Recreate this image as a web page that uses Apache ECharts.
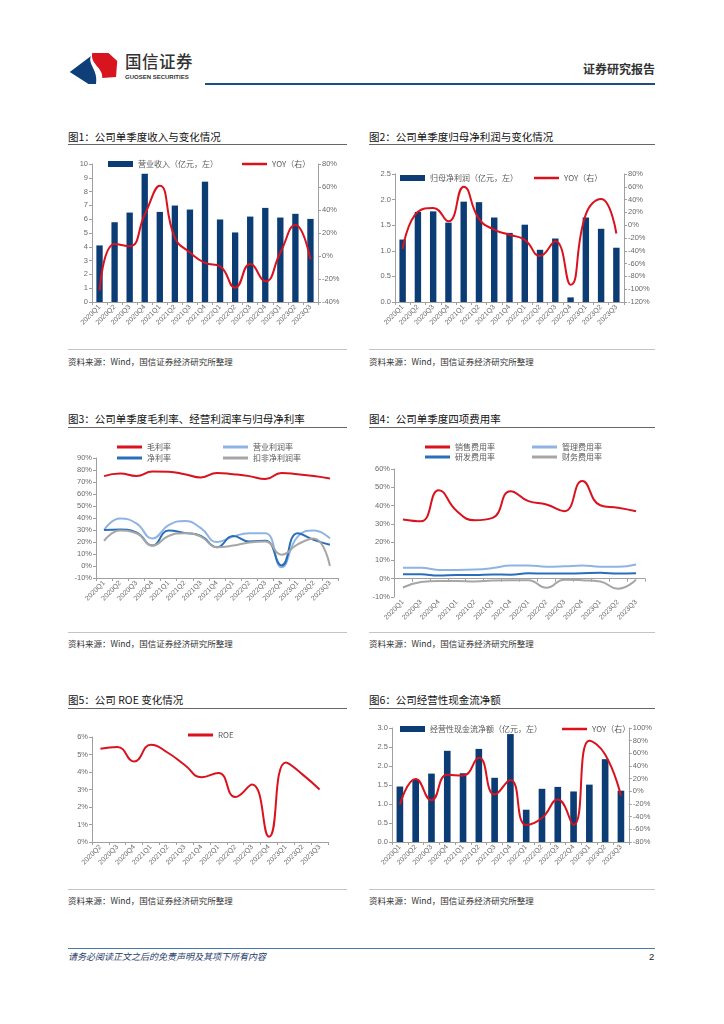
<!DOCTYPE html>
<html><head><meta charset="utf-8">
<script src="https://cdn.jsdelivr.net/npm/echarts@6/dist/echarts.min.js"></script>
<style>
body{margin:0;background:#fff;}
#page{position:relative;width:724px;height:1024px;overflow:hidden;font-family:"Noto Sans CJK SC","Liberation Sans",sans-serif;background:#fff;}
.abs{position:absolute;}
.title{font-size:10.5px;line-height:12px;color:#111;white-space:nowrap;}
.uline{height:1px;background:#666;}
.bline{height:1px;background:#c4c4c4;}
.src{font-size:8.5px;line-height:10px;color:#333;white-space:nowrap;}
</style></head>
<body>
<div id="page">
  <svg class="abs" style="left:66px;top:50px" width="60" height="36" viewBox="0 0 48 36" preserveAspectRatio="none">
    <path d="M3,22 L20,6 C17,14 26,20 24,34 L18,34 Z" fill="#0e3f78"/>
    <path d="M21,3 L34,3 L41,11 L40,27 L29,28 C30,18 19,14 21,3 Z" fill="#d8141e"/>
  </svg>
  <div class="abs" style="left:125px;top:52px;font-size:16.5px;line-height:19px;color:#333;font-weight:500;letter-spacing:0.5px;">国信证券</div>
  <div class="abs" style="left:125px;top:74px;font-size:6px;line-height:7px;color:#333;font-weight:bold;font-family:'Liberation Sans';">GUOSEN SECURITIES</div>
  <div class="abs" style="left:205px;top:83px;width:450px;height:2px;background:#1f4e82;"></div>
  <div class="abs" style="left:583px;top:62px;font-size:12px;line-height:14px;color:#333;font-weight:bold;">证券研究报告</div>

  <div class="abs title" style="left:68px;top:131px;">图1：公司单季度收入与变化情况</div>
  <div class="abs uline" style="left:68px;top:144px;width:279px;"></div>
  <div class="abs title" style="left:369px;top:131px;">图2：公司单季度归母净利润与变化情况</div>
  <div class="abs uline" style="left:369px;top:144px;width:286px;"></div>
  <div class="abs bline" style="left:68px;top:349px;width:279px;"></div>
  <div class="abs bline" style="left:369px;top:349px;width:286px;"></div>
  <div class="abs src" style="left:68px;top:356px;">资料来源：Wind，国信证券经济研究所整理</div>
  <div class="abs src" style="left:369px;top:356px;">资料来源：Wind，国信证券经济研究所整理</div>

  <div class="abs title" style="left:68px;top:413px;">图3：公司单季度毛利率、经营利润率与归母净利率</div>
  <div class="abs uline" style="left:68px;top:427px;width:279px;"></div>
  <div class="abs title" style="left:369px;top:413px;">图4：公司单季度四项费用率</div>
  <div class="abs uline" style="left:369px;top:427px;width:286px;"></div>
  <div class="abs bline" style="left:68px;top:632px;width:279px;"></div>
  <div class="abs bline" style="left:369px;top:632px;width:286px;"></div>
  <div class="abs src" style="left:68px;top:638px;">资料来源：Wind，国信证券经济研究所整理</div>
  <div class="abs src" style="left:369px;top:638px;">资料来源：Wind，国信证券经济研究所整理</div>

  <div class="abs title" style="left:68px;top:694px;">图5：公司 ROE 变化情况</div>
  <div class="abs uline" style="left:68px;top:708px;width:279px;"></div>
  <div class="abs title" style="left:369px;top:694px;">图6：公司经营性现金流净额</div>
  <div class="abs uline" style="left:369px;top:708px;width:286px;"></div>
  <div class="abs bline" style="left:68px;top:889px;width:279px;"></div>
  <div class="abs bline" style="left:369px;top:889px;width:286px;"></div>
  <div class="abs src" style="left:68px;top:895px;">资料来源：Wind，国信证券经济研究所整理</div>
  <div class="abs src" style="left:369px;top:895px;">资料来源：Wind，国信证券经济研究所整理</div>

  <div class="abs" style="left:68px;top:948px;width:587px;height:1px;background:#4a7aa8;"></div>
  <div class="abs" style="left:68px;top:951px;font-size:9px;line-height:11px;color:#1f3d6b;font-style:italic;">请务必阅读正文之后的免责声明及其项下所有内容</div>
  <div class="abs" style="left:649px;top:951px;font-size:9.5px;line-height:11px;color:#222;font-family:'Liberation Sans';">2</div>

  <div id="c1" class="abs" style="left:68px;top:150px;width:282px;height:195px;"></div>
  <div id="c2" class="abs" style="left:369px;top:150px;width:286px;height:195px;"></div>
  <div id="c3" class="abs" style="left:68px;top:435px;width:282px;height:195px;"></div>
  <div id="c4" class="abs" style="left:369px;top:435px;width:286px;height:195px;"></div>
  <div id="c5" class="abs" style="left:68px;top:715px;width:282px;height:170px;"></div>
  <div id="c6" class="abs" style="left:369px;top:715px;width:286px;height:170px;"></div>
</div>
<script>
// ---------- data ----------
const quarters = ['2020Q1','2020Q2','2020Q3','2020Q4','2021Q1','2021Q2','2021Q3','2021Q4','2022Q1','2022Q2','2022Q3','2022Q4','2023Q1','2023Q2','2023Q3'];
const quartersFee = ['2020Q1','2020Q3','2020Q4','2021Q1','2021Q2','2021Q3','2021Q4','2022Q1','2022Q2','2022Q3','2022Q4','2023Q1','2023Q2','2023Q3'];
const quartersRoe = ['2020Q2','2020Q3','2020Q4','2021Q1','2021Q2','2021Q3','2021Q4','2022Q1','2022Q2','2022Q3','2022Q4','2023Q1','2023Q2','2023Q3'];

const revenue = [4.1,5.78,6.48,9.3,6.53,6.99,6.7,8.72,5.98,5.04,6.19,6.82,6.12,6.39,6.02];
const revenueYoy = [-30,10.5,8.5,36,61,16,3,-6,-9,-27.5,-7,-22,3,27,-3];

const netProfit = [1.22,1.76,1.77,1.55,1.96,1.95,1.65,1.35,1.51,1.02,1.24,0.09,1.65,1.43,1.06];
const netProfitYoy = [-37,21,27,6,60,10,-7,-15,-23,-48,-25,-93,17,41,-13];

const grossMargin = [74.9,77,75,78.7,78.5,76.5,73.8,77.6,76.5,74.9,72.4,77.6,76.5,75,73];
const opMargin = [30,39.5,35.6,23,34,37.5,31.5,20,24.5,27.3,27.3,-1,24.5,29.5,23];
const netMargin = [30,30.4,28,17,29.5,27.6,25,15.7,25,20.4,21,0.5,27.3,21.8,17.7];
const deductMargin = [21,29.5,27.3,17,25,27.3,24.5,15.7,17,19.6,20.4,9.4,18,23,0];

const sellRate = [32.4,31.4,48.4,37,32,33.3,47.9,42.4,40.6,36.9,53.4,40.2,38.8,36.9];
const mgmtRate = [6,6,4.8,4.8,5,5.8,7.2,7.2,6.6,6.8,7.2,6.6,6.6,7.8];
const rdRate = [2.5,2.4,1.8,2.0,2.0,2.3,2.2,3.0,2.8,2.8,3.0,3.2,2.8,3.0];
const finRate = [-4.8,-1.8,-1.2,-1.2,-1.5,-1.0,-0.8,-0.8,-5.0,-0.5,-0.8,-1.5,-5.5,-0.5];

const roe = [5.33,5.43,4.6,5.56,5.1,4.4,3.7,3.95,2.57,3.28,0.3,4.55,3.85,3.0];

const cashFlow = [1.46,1.64,1.80,2.40,1.81,2.45,1.69,2.84,0.85,1.40,1.45,1.33,1.51,2.18,1.35];
const cashFlowYoy = [-21,19.5,-14,26,25,53,-5,18,-53,-42,-13,-53,80,58,-7];

// ---------- styles ----------
const NAVY = '#0b3c74', RED = '#d9121d', LBLUE = '#8fb4e3', BLUE = '#2a6ebb', GRAY = '#a6a6a6';
const FONT = 'Liberation Sans';
const AX = '#a0a0a0';
const LBL = '#6a6a6a';
function yAxis(o){
  return Object.assign({
    type:'value', splitLine:{show:false},
    axisLine:{show:true,lineStyle:{color:AX}},
    axisTick:{show:true,length:3,lineStyle:{color:AX}},
    axisLabel:{color:LBL,fontSize:7.5,fontFamily:FONT,margin:4}
  }, o);
}
function xAxis(data,o){
  return Object.assign({
    type:'category', data:data, boundaryGap:true,
    axisLine:{show:true,lineStyle:{color:AX}},
    axisTick:{show:true,length:3,lineStyle:{color:AX}},
    axisLabel:{color:LBL,fontSize:7,fontFamily:FONT,rotate:45,interval:0,margin:4}
  }, o);
}
function legend(name,left,top,icon,h){
  return {data:[name],left:left,top:top,icon:'rect',itemWidth:25,itemHeight:h,
    textStyle:{color:'#595959',fontSize:8,fontFamily:'Noto Sans CJK SC'},selectedMode:false,padding:0};
}
function lineS(name,data,color,yi){
  return {name:name,type:'line',data:data,yAxisIndex:yi||0,smooth:0.5,symbol:'none',
    lineStyle:{color:color,width:2},itemStyle:{color:color},z:3};
}
function barS(name,data){
  return {name:name,type:'bar',data:data,barWidth:'42%',itemStyle:{color:NAVY}};
}
const pct = v => v + '%';
const fix1 = v => v.toFixed(1);
function lab(fmt){ return {color:LBL,fontSize:7.5,fontFamily:FONT,margin:4,formatter:fmt}; }

// Chart 1
echarts.init(document.getElementById('c1')).setOption({
  animation:false,
  grid:{left:24,right:32,top:14,bottom:43},
  legend:[legend('营业收入（亿元，左）',40,10,'rect',6), legend('YOY（右）',174,10,'rect',2.5)],
  xAxis:xAxis(quarters),
  yAxis:[yAxis({min:0,max:10,interval:1}), yAxis({min:-40,max:80,interval:20,position:'right',axisLabel:lab(pct)})],
  series:[barS('营业收入（亿元，左）',revenue), lineS('YOY（右）',revenueYoy,RED,1)]
});

// Chart 2
echarts.init(document.getElementById('c2')).setOption({
  animation:false,
  grid:{left:26,right:31,top:24,bottom:43},
  legend:[legend('归母净利润（亿元，左）',31,24,'rect',6), legend('YOY（右）',165,24,'rect',2.5)],
  xAxis:xAxis(quarters),
  yAxis:[yAxis({min:0,max:2.5,interval:0.5,axisLabel:lab(fix1)}),
         yAxis({min:-120,max:80,interval:20,position:'right',axisLabel:lab(pct)})],
  series:[barS('归母净利润（亿元，左）',netProfit), lineS('YOY（右）',netProfitYoy,RED,1)]
});

// Chart 3
echarts.init(document.getElementById('c3')).setOption({
  animation:false,
  grid:{left:28,right:12,top:23,bottom:52},
  legend:[legend('毛利率',49,8,'rect',3), legend('营业利润率',155,8,'rect',3),
          legend('净利率',49,19,'rect',3), legend('扣非净利润率',155,19,'rect',3)],
  xAxis:xAxis(quarters,{axisLine:{show:true,onZero:false,lineStyle:{color:AX}}}),
  yAxis:yAxis({min:-10,max:90,interval:10,axisLabel:lab(pct)}),
  series:[lineS('毛利率',grossMargin,RED), lineS('营业利润率',opMargin,LBLUE),
          lineS('净利率',netMargin,BLUE), lineS('扣非净利润率',deductMargin,GRAY)]
});

// Chart 4
echarts.init(document.getElementById('c4')).setOption({
  animation:false,
  grid:{left:25,right:10,top:34,bottom:33},
  legend:[legend('销售费用率',56,8,'rect',3), legend('管理费用率',163,8,'rect',3),
          legend('研发费用率',56,18,'rect',3), legend('财务费用率',163,18,'rect',3)],
  xAxis:xAxis(quartersFee,{axisLine:{show:true,onZero:true,lineStyle:{color:AX}}}),
  yAxis:yAxis({min:-10,max:60,interval:10,axisLabel:lab(pct)}),
  series:[lineS('销售费用率',sellRate,RED), lineS('管理费用率',mgmtRate,LBLUE),
          lineS('研发费用率',rdRate,BLUE), lineS('财务费用率',finRate,GRAY)]
});

// Chart 5
echarts.init(document.getElementById('c5')).setOption({
  animation:false,
  grid:{left:24,right:22,top:22,bottom:43},
  legend:[legend('ROE',120,16,'rect',3)],
  xAxis:xAxis(quartersRoe),
  yAxis:yAxis({min:0,max:6,interval:1,axisLabel:lab(pct)}),
  series:[lineS('ROE',roe,RED)]
});

// Chart 6
echarts.init(document.getElementById('c6')).setOption({
  animation:false,
  grid:{left:23,right:26,top:13,bottom:43},
  legend:[legend('经营性现金流净额（亿元，左）',31,10,'rect',6), legend('YOY（右）',193,10,'rect',2.5)],
  xAxis:xAxis(quarters),
  yAxis:[yAxis({min:0,max:3,interval:0.5,axisLabel:lab(fix1)}),
         yAxis({min:-80,max:100,interval:20,position:'right',axisLabel:lab(pct)})],
  series:[barS('经营性现金流净额（亿元，左）',cashFlow), lineS('YOY（右）',cashFlowYoy,RED,1)]
});
</script>
</body></html>
